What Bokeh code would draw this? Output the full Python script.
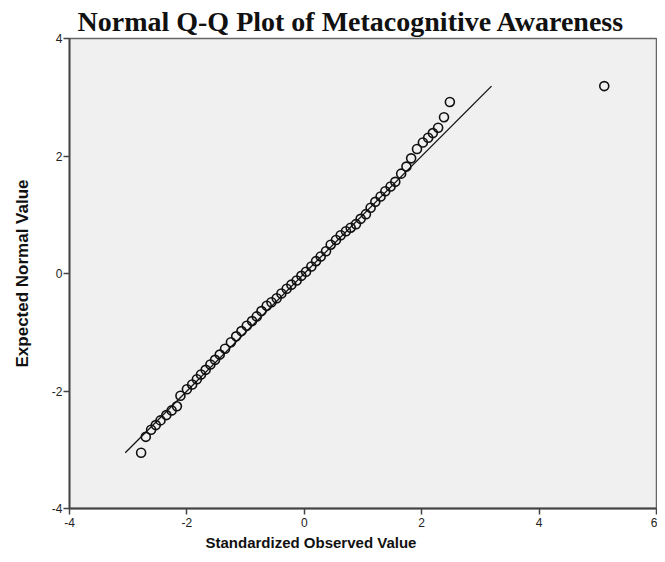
from bokeh.plotting import figure
from bokeh.models import ColumnDataSource, FixedTicker, Range1d, Title
from bokeh.embed import file_html
from bokeh.resources import INLINE

title_text = "Normal Q-Q Plot of Metacognitive Awareness"
x_label = "Standardized Observed Value"
y_label = "Expected Normal Value"
x_ticks = [-4, -2, 0, 2, 4, 6]
y_ticks = [-4, -2, 0, 2, 4]

observed = [-2.78, -2.70, -2.61, -2.53, -2.45, -2.35, -2.26, -2.17, -2.11, -2.00,
            -1.91, -1.83, -1.76, -1.68, -1.60, -1.52, -1.44, -1.35, -1.25, -1.16,
            -1.07, -0.98, -0.89, -0.81, -0.73, -0.64, -0.56, -0.47, -0.39, -0.30,
            -0.22, -0.13, -0.05, 0.03, 0.12, 0.20, 0.28, 0.37, 0.45, 0.54,
            0.62, 0.71, 0.79, 0.88, 0.96, 1.05, 1.13, 1.21, 1.30, 1.38,
            1.47, 1.55, 1.65, 1.74, 1.82, 1.92, 2.02, 2.11, 2.19, 2.28,
            2.38, 2.48, 5.11]
expected = [-3.05, -2.78, -2.66, -2.58, -2.50, -2.41, -2.33, -2.26, -2.08, -1.97,
            -1.89, -1.80, -1.72, -1.64, -1.55, -1.47, -1.38, -1.28, -1.17, -1.07,
            -0.98, -0.89, -0.81, -0.73, -0.64, -0.55, -0.49, -0.42, -0.34, -0.26,
            -0.19, -0.12, -0.04, 0.03, 0.12, 0.21, 0.29, 0.38, 0.49, 0.57,
            0.65, 0.72, 0.78, 0.84, 0.93, 1.01, 1.12, 1.22, 1.31, 1.40,
            1.48, 1.56, 1.70, 1.82, 1.96, 2.12, 2.23, 2.31, 2.39, 2.48,
            2.66, 2.92, 3.19]

p = figure(width=657, height=552, output_backend="svg", toolbar_location=None,
           x_range=Range1d(-4, 6), y_range=Range1d(-4, 4),
           min_border_left=69, min_border_right=1, min_border_top=38, min_border_bottom=42)

p.background_fill_color = "#f0f0f0"
p.border_fill_color = "white"
p.outline_line_color = "#666666"
p.outline_line_width = 1.5
p.xgrid.visible = False
p.ygrid.visible = False

p.title.text = title_text
p.title.text_font = "Liberation Serif"
p.title.text_font_style = "bold"
p.title.text_font_size = "28px"
p.title.align = "left"
p.title.offset = 8
p.title.standoff = 3
p.title.text_color = "#111111"

for ax, ticks in ((p.xaxis, x_ticks), (p.yaxis, y_ticks)):
    ax.ticker = FixedTicker(ticks=ticks)
    ax.major_label_overrides = {t: str(t) for t in ticks}
    ax.minor_tick_line_color = None
    ax.major_tick_out = 6
    ax.major_tick_in = 0
    ax.axis_line_color = "#444444"
    ax.axis_line_width = 1.8
    ax.major_tick_line_color = "#444444"
    ax.major_tick_line_width = 1.5
    ax.major_label_text_font = "Liberation Sans"
    ax.major_label_text_font_size = "12px"
    ax.major_label_text_color = "#222222"
    ax.axis_label_text_font = "Liberation Sans"
    ax.axis_label_text_font_style = "bold"
    ax.axis_label_text_color = "#111111"

p.xaxis.major_label_standoff = 3
p.yaxis.major_label_standoff = 1
p.yaxis.axis_label = y_label
p.yaxis.axis_label_text_font_size = "17px"
p.yaxis.axis_label_standoff = 17
p.yaxis.major_label_orientation = "horizontal"

xt = Title(text=x_label, align="left", offset=136, standoff=4,
           text_font="Liberation Sans", text_font_style="bold",
           text_font_size="15px", text_color="#111111")
p.add_layout(xt, "below")

lo, hi = min(expected), max(expected)
p.segment(x0=[lo], y0=[lo], x1=[hi], y1=[hi], line_color="#111111", line_width=1.3)

src = ColumnDataSource(dict(x=observed, y=expected))
p.scatter("x", "y", source=src, size=9, marker="circle", fill_color=None,
          line_color="#111111", line_width=1.6)

open("out.html", "w").write(file_html(p, INLINE))
